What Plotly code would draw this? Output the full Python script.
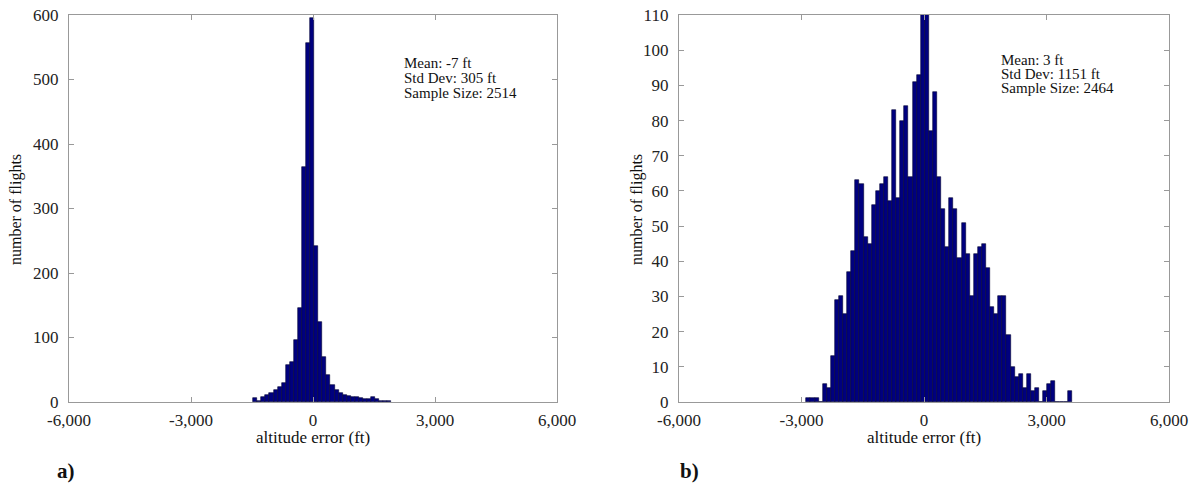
import plotly.graph_objects as go

# ---------------- data ----------------
# panel a) bin centres (ft) and counts
a_centers = [-1420, -1320, -1220, -1120, -1020, -920, -820, -720, -620, -520,
             -420, -320, -220, -120, -20, 80, 180, 280, 380, 480,
             580, 680, 780, 880, 980, 1080, 1180, 1280, 1380, 1480,
             1580, 1680, 1780, 1880]
a_counts = [6, 1, 8, 11, 14, 19, 24, 30, 58, 62,
            96, 146, 365, 557, 595, 242, 124, 70, 42, 26,
            19, 14, 11, 9, 8, 7, 6, 5, 4, 8,
            4, 2, 2, 1]

# panel b) bin centres (ft) and counts
b_centers = [-2830, -2730, -2630, -2530, -2430, -2330, -2230, -2130, -2030, -1930,
             -1830, -1730, -1630, -1530, -1430, -1330, -1230, -1130, -1030, -930,
             -830, -730, -630, -530, -430, -330, -230, -130, -30, 70,
             170, 270, 370, 470, 570, 670, 770, 870, 970, 1070,
             1170, 1270, 1370, 1470, 1570, 1670, 1770, 1870, 1970, 2070,
             2170, 2270, 2370, 2470, 2570, 2670, 2770, 2870, 2970, 3070,
             3170, 3270, 3370, 3470, 3570]
b_counts = [1, 1, 1, 0, 5, 4, 13, 29, 30, 25,
            37, 43, 63, 62, 47, 45, 56, 60, 62, 64,
            57, 83, 58, 80, 84, 64, 91, 93, 112, 112,
            77, 88, 64, 55, 44, 58, 55, 41, 51, 42,
            30, 42, 44, 45, 38, 27, 25, 30, 30, 19,
            10, 7, 8, 4, 8, 3, 4, 0, 3, 5,
            6, 0, 0, 0, 3]

x_tickvals = [-6000, -3000, 0, 3000, 6000]
x_ticktext = ["-6,000", "-3,000", "0", "3,000", "6,000"]
a_yticks = [0, 100, 200, 300, 400, 500, 600]
b_yticks = [0, 10, 20, 30, 40, 50, 60, 70, 80, 90, 100, 110]

a_stats = ["Mean: -7 ft", "Std Dev: 305 ft", "Sample Size: 2514"]
b_stats = ["Mean: 3 ft", "Std Dev: 1151 ft", "Sample Size: 2464"]

# ---------------- figure ----------------
W, H = 1194, 487
FONT = "Liberation Serif"
BAR = "#00007f"
AXC = "#999999"

fig = go.Figure()
fig.add_trace(go.Bar(x=a_centers, y=a_counts, width=100, xaxis="x", yaxis="y",
                     marker=dict(color=BAR, line=dict(color="#000033", width=0.6)),
                     showlegend=False))
fig.add_trace(go.Bar(x=b_centers, y=b_counts, width=100, xaxis="x2", yaxis="y2",
                     marker=dict(color=BAR, line=dict(color="#000033", width=0.6)),
                     showlegend=False))

def px_x(p):
    return p / W

def px_y(p):
    return 1 - p / H

common_axis = dict(showgrid=False, zeroline=False, showline=True, linecolor=AXC,
                   linewidth=1.3, mirror="ticks", ticks="inside", ticklen=5,
                   tickcolor=AXC, tickwidth=1, automargin=False,
                   tickfont=dict(family=FONT, size=17, color="#222"))

fig.update_layout(
    width=W, height=H, margin=dict(l=0, r=0, t=0, b=0, autoexpand=False),
    paper_bgcolor="white", plot_bgcolor="white", bargap=0,
    font=dict(family=FONT, color="#222"),
    xaxis=dict(domain=[px_x(69), px_x(557)], range=[-6000, 6000],
               tickvals=x_tickvals, ticktext=x_ticktext, anchor="y",
               ticklabelstandoff=2, **common_axis),
    yaxis=dict(domain=[px_y(402), px_y(15)], range=[0, 600], tickvals=a_yticks,
               anchor="x", ticklabelstandoff=6, **common_axis),
    xaxis2=dict(domain=[px_x(679), px_x(1169)], range=[-6000, 6000],
                tickvals=x_tickvals, ticktext=x_ticktext, anchor="y2",
                ticklabelstandoff=2, **common_axis),
    yaxis2=dict(domain=[px_y(402), px_y(15)], range=[0, 110], tickvals=b_yticks,
                anchor="x2", ticklabelstandoff=6, **common_axis),
)

ann = []
def txt(x, y, s, size=17, angle=0, bold=False, xanchor="center"):
    ann.append(dict(x=px_x(x), y=px_y(y), xref="paper", yref="paper", text=("<b>%s</b>" % s) if bold else s,
                    showarrow=False, xanchor=xanchor, yanchor="middle", textangle=angle,
                    font=dict(family=FONT, size=size, color="#111")))

# axis titles
txt(313, 437, "altitude error (ft)", size=17)
txt(924, 437, "altitude error (ft)", size=17)
txt(16, 210, "number of flights", size=16, angle=-90)
txt(637, 210, "number of flights", size=16, angle=-90)

# statistics boxes
for i, s in enumerate(a_stats):
    txt(402, 63 + 15 * i, s, size=15, xanchor="left")
for i, s in enumerate(b_stats):
    txt(999, 60 + 14 * i, s, size=15, xanchor="left")

# panel labels
txt(66, 471, "a)", size=21, bold=True)
txt(690, 471, "b)", size=21, bold=True)

fig.update_layout(annotations=ann)
fig.write_html("out.html", config={"displayModeBar": False},
               post_script="document.body.style.margin='0';document.body.style.overflow='hidden';")
